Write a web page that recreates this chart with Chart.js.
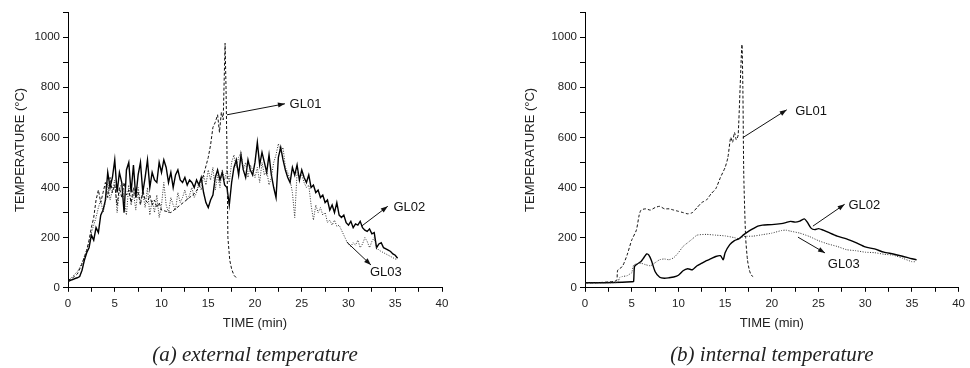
<!DOCTYPE html>
<html>
<head>
<meta charset="utf-8">
<script src="https://cdn.jsdelivr.net/npm/chart.js@4.4.1/dist/chart.umd.min.js"></script>
<style>
  body { margin: 0; background: #fff; }
  .box { position: absolute; top: 0; width: 485px; height: 368px; }
</style>
</head>
<body>
<div class="box" style="left:0"><canvas id="extChart" width="485" height="368"></canvas></div>
<div class="box" style="left:485px"><canvas id="intChart" width="485" height="368"></canvas></div>
<script>
/* ===== (a) EXTERNAL TEMPERATURE ===== */
// shared time base for GL02 / GL03 (min)
const extTime = [
  0, 0.25, 0.5, 0.75, 1, 1.25, 1.5, 1.75,
  2, 2.25, 2.5, 2.75, 3, 3.25, 3.5, 3.75,
  4, 4.25, 4.5, 4.75, 5, 5.25, 5.5, 5.75,
  6, 6.25, 6.5, 6.75, 7, 7.25, 7.5, 7.75,
  8, 8.25, 8.5, 8.75, 9, 9.25, 9.5, 9.75,
  10, 10.25, 10.5, 10.75, 11, 11.25, 11.5, 11.75,
  12, 12.25, 12.5, 12.75, 13, 13.25, 13.5, 13.75,
  14, 14.25, 14.5, 14.75, 15, 15.25, 15.5, 15.75,
  16, 16.25, 16.5, 16.75, 17, 17.25, 17.5, 17.75,
  18, 18.25, 18.5, 18.75, 19, 19.25, 19.5, 19.75,
  20, 20.25, 20.5, 20.75, 21, 21.25, 21.5, 21.75,
  22, 22.25, 22.5, 22.75, 23, 23.25, 23.5, 23.75,
  24, 24.25, 24.5, 24.75, 25, 25.25, 25.5, 25.75,
  26, 26.25, 26.5, 26.75, 27, 27.25, 27.5, 27.75,
  28, 28.25, 28.5, 28.75, 29, 29.25, 29.5, 29.75,
  30, 30.25, 30.5, 30.75, 31, 31.25, 31.5, 31.75,
  32, 32.25, 32.5, 32.75, 33, 33.25, 33.5, 33.75,
  34, 34.25, 34.5, 34.75, 35, 35.25
];
const extGL02 = [
  25, 30, 33, 37, 40, 45, 70, 110,
  140, 160, 210, 190, 240, 220, 290, 310,
  350, 460, 400, 440, 510, 380, 460, 420,
  300, 470, 500, 380, 490, 360, 450, 500,
  380, 440, 510, 400, 460, 430, 420, 500,
  460, 510, 480, 420, 460, 400, 450, 470,
  430, 420, 440, 410, 430, 420, 400, 430,
  410, 440, 380, 340, 320, 350, 370, 440,
  470, 430, 460, 410, 400, 330, 420, 480,
  510, 450, 530, 470, 440, 510, 470, 450,
  500, 580, 490, 540, 500, 460, 530, 450,
  400, 360, 520, 560, 510, 470, 440, 420,
  480, 450, 490, 430, 470, 440, 420, 450,
  400, 410, 380, 390, 360, 370, 340, 350,
  310, 330, 300, 340, 290, 280, 290, 260,
  250, 265, 240, 255, 250, 265, 240, 230,
  225, 235, 215, 220, 160, 175, 180, 160,
  155, 150, 145, 135, 130, 118
];
const extGL03 = [
  25, 35, 45, 55, 65, 80, 100, 125,
  150, 175, 220, 250, 280, 320, 350, 300,
  340, 420, 350, 390, 430, 300, 390, 420,
  350, 290, 410, 330, 380, 310, 400, 340,
  380, 320, 400, 290, 350, 300, 370, 280,
  330, 420, 330, 300, 360, 330, 310, 380,
  340, 360, 390, 350, 370, 400, 360, 380,
  420, 390, 450, 410, 470, 430, 480, 390,
  450, 400, 470, 430, 470, 420, 500, 530,
  480, 520, 540, 470, 500, 440, 490, 470,
  440, 480, 420, 500, 450, 470, 410, 440,
  500, 530, 575, 540, 560, 480, 460, 430,
  380, 280, 460, 440, 450, 420, 400, 410,
  330, 270, 330, 300, 320, 290, 300, 260,
  270, 250, 270, 245, 250, 230, 210, 190,
  175, 165, 180, 170, 190, 160, 175, 200,
  185, 160, 185, 200, 160, 150, 145, 140,
  135, 130, 125, 120, 115, 112
];
const extTime01 = [
  0, 0.5, 1, 1.5, 2, 2.25, 2.5, 2.75, 3, 3.25,
  3.5, 3.75, 4, 4.25, 4.5, 4.75, 5, 5.25, 5.5, 5.75,
  6, 6.25, 6.5, 6.75, 7, 7.25, 7.5, 7.75, 8, 8.25,
  8.5, 8.75, 9, 9.25, 9.5, 9.75, 10, 10.5, 11, 11.5,
  12, 12.5, 13, 13.5, 14, 14.5, 15, 15.25, 15.5, 15.75,
  16, 16.2, 16.4, 16.6, 16.8, 16.9, 17, 17.1, 17.3, 17.5,
  17.75, 18
];
const extGL01 = [
  30, 40, 55, 95, 150, 190, 240, 280, 350, 390,
  340, 380, 420, 360, 440, 380, 410, 330, 400, 360,
  420, 370, 390, 340, 400, 360, 380, 330, 390, 350,
  340, 370, 330, 350, 320, 340, 310, 305, 300, 315,
  330, 345, 360, 375, 400, 450, 520, 570, 640, 660,
  690, 620, 700, 670, 975, 800, 550, 200, 110, 75,
  50, 40
];

/* ===== (b) INTERNAL TEMPERATURE ===== */
const intTime01 = [
  0, 1, 2, 3, 3.4, 3.5, 4, 4.5, 5, 5.5,
  5.8, 6, 6.5, 7, 7.5, 8, 8.5, 9, 9.5, 10,
  10.5, 11, 11.5, 12, 12.5, 13, 13.5, 14, 14.5, 15,
  15.3, 15.6, 15.8, 16, 16.2, 16.4, 16.8, 16.9, 17, 17.2,
  17.4, 17.6, 17.8, 18
];
const intGL01 = [
  20, 20, 22, 25, 30, 70, 85, 130, 190, 230,
  290, 310, 315, 310, 320, 325, 315, 315, 310, 305,
  300, 295, 300, 320, 340, 350, 375, 395, 440, 480,
  520, 600, 580, 620, 590, 610, 970, 800, 450, 200,
  110, 70, 50, 45
];
const intTime02 = [
  0, 2, 4, 5, 5.2, 5.3, 5.6, 6, 6.3, 6.6,
  6.8, 7.1, 7.5, 8, 8.5, 9, 9.5, 10, 10.5, 11,
  11.5, 12, 12.5, 13, 13.5, 14, 14.5, 14.8, 15, 15.5,
  16, 16.5, 17, 17.5, 18, 18.5, 19, 20, 21, 21.5,
  22, 22.5, 23, 23.5, 23.8, 24.2, 24.6, 25, 25.5, 26,
  27, 28, 29, 30, 31, 32, 33, 34, 35, 35.5
];
const intGL02 = [
  20, 20, 22, 24, 25, 85, 95, 105, 120, 135,
  132, 110, 65, 42, 38, 40, 43, 50, 68, 76,
  72, 88, 98, 108, 116, 125, 128, 112, 140, 172,
  188, 196, 212, 225, 236, 246, 250, 252, 256, 260,
  265, 262, 266, 275, 262, 238, 232, 236, 230, 222,
  206, 195, 180, 163, 155, 142, 135, 126, 116, 112
];
const intTime03 = [
  0, 2, 3.5, 3.7, 4, 4.5, 4.8, 5, 5.2, 5.5,
  6, 6.5, 7, 7.5, 8, 8.5, 9, 9.5, 10, 10.5,
  11, 11.5, 12, 13, 14, 15, 16, 16.5, 17, 18,
  19, 20, 21, 21.5, 22, 23, 24, 25, 26, 27,
  28, 29, 30, 31, 32, 33, 34, 35, 35.3
];
const intGL03 = [
  20, 20, 22, 40, 45, 48, 55, 60, 90, 95,
  98, 92, 88, 100, 112, 115, 112, 120, 140, 165,
  180, 195, 210, 213, 210, 207, 200, 196, 205, 206,
  212, 218, 228, 230, 226, 218, 205, 188, 175, 165,
  152, 148, 142, 140, 134, 130, 118, 104, 104
];

// axis ticks
const xTickStep = 2.5, xLabelStep = 5, xMax = 40;
const yTickStep = 100, yLabelStep = 200, yMax = 1100;

function pts(ts, vs) {
  return ts.map((t, i) => ({ x: t, y: vs[i] }));
}

function series(label, ts, vs, style, tension) {
  return Object.assign({
    label: label,
    data: pts(ts, vs),
    borderColor: "#111",
    pointRadius: 0,
    fill: false,
    tension: tension,
  }, style);
}

const dashed = { borderWidth: 1, borderDash: [3, 2], borderColor: "#111" };
const solid = { borderWidth: 1.4, borderColor: "#000" };
const dotted = { borderWidth: 1, borderDash: [1, 1.5], borderColor: "#333" };

// arrow + label callouts, in data units
const arrowPlugin = {
  id: "arrows",
  afterDatasetsDraw(chart) {
    const notes = chart.options.plugins.arrows.notes || [];
    const xs = chart.scales.x, ys = chart.scales.y;
    const ctx = chart.ctx;
    ctx.save();
    ctx.strokeStyle = "#111";
    ctx.fillStyle = "#111";
    ctx.lineWidth = 1;
    notes.forEach((n) => {
      let x1 = xs.getPixelForValue(n.from[0]), y1 = ys.getPixelForValue(n.from[1]);
      let x2 = xs.getPixelForValue(n.to[0]), y2 = ys.getPixelForValue(n.to[1]);
      ctx.beginPath();
      ctx.moveTo(x1, y1);
      ctx.lineTo(x2, y2);
      ctx.stroke();
      let a = Math.atan2(y2 - y1, x2 - x1);
      ctx.beginPath();
      ctx.moveTo(x2, y2);
      ctx.lineTo(x2 - 7 * Math.cos(a) + 2.5 * Math.sin(a), y2 - 7 * Math.sin(a) - 2.5 * Math.cos(a));
      ctx.lineTo(x2 - 7 * Math.cos(a) - 2.5 * Math.sin(a), y2 - 7 * Math.sin(a) + 2.5 * Math.cos(a));
      ctx.closePath();
      ctx.fill();
      ctx.font = "13px 'Liberation Sans', Arial, sans-serif";
      ctx.textAlign = "left";
      ctx.textBaseline = "middle";
      ctx.fillText(n.label, xs.getPixelForValue(n.text[0]), ys.getPixelForValue(n.text[1]));
    });
    ctx.restore();
  },
};

function makeChart(id, datasets, caption, padLeft, padRight, yTitlePad, notes) {
  const tickFont = { family: "'Liberation Sans', Arial, sans-serif", size: 11.5 };
  const titleFont = { family: "'Liberation Sans', Arial, sans-serif", size: 13 };
  return new Chart(document.getElementById(id).getContext("2d"), {
    type: "line",
    data: { datasets: datasets },
    plugins: [arrowPlugin],
    options: {
      responsive: false,
      animation: false,
      layout: { padding: { left: padLeft, right: padRight, top: 12, bottom: 0 } },
      plugins: {
        legend: { display: false },
        tooltip: { enabled: false },
        title: {
          display: true,
          text: caption,
          position: "bottom",
          fullSize: false,
          color: "#222",
          font: { family: "'Liberation Serif', 'Times New Roman', serif", style: "italic", weight: "normal", size: 21 },
          padding: { top: 0, bottom: 0 },
        },
        arrows: { notes: notes },
      },
      scales: {
        x: {
          type: "linear",
          min: 0,
          max: xMax,
          afterFit: (s) => { s.height = 55; },
          border: { display: true, color: "#000", width: 1 },
          grid: { drawOnChartArea: false, drawTicks: true, tickLength: 4, color: "#000" },
          ticks: {
            stepSize: xTickStep,
            autoSkip: false,
            maxRotation: 0,
            padding: 5,
            color: "#222",
            font: tickFont,
            callback: (v) => (v % xLabelStep === 0 ? v : ""),
          },
          title: { display: true, text: "TIME (min)", color: "#222", font: titleFont, padding: { top: 0, bottom: 12 } },
        },
        y: {
          min: 0,
          max: yMax,
          afterFit: (s) => { s.width = 68; },
          border: { display: true, color: "#000", width: 1 },
          grid: { drawOnChartArea: false, drawTicks: true, tickLength: 5, color: "#000" },
          ticks: {
            stepSize: yTickStep,
            autoSkip: false,
            padding: 3,
            color: "#222",
            font: tickFont,
            callback: (v) => (v % yLabelStep === 0 ? v : ""),
          },
          title: { display: true, text: "TEMPERATURE (°C)", color: "#222", font: titleFont, padding: { top: yTitlePad, bottom: 0 } },
        },
      },
    },
  });
}

makeChart("extChart", [
  series("GL01", extTime01, extGL01, dashed, 0),
  series("GL03", extTime, extGL03, dotted, 0),
  series("GL02", extTime, extGL02, solid, 0),
], "(a) external temperature", 0, 43, 13, [
  { label: "GL01", from: [17.0, 690], to: [23.2, 734], text: [23.7, 730] },
  { label: "GL02", from: [31.4, 246], to: [34.2, 325], text: [34.8, 321] },
  { label: "GL03", from: [29.8, 183], to: [32.4, 91], text: [32.3, 60] },
]);

makeChart("intChart", [
  series("GL01", intTime01, intGL01, dashed, 0.2),
  series("GL03", intTime03, intGL03, dotted, 0.2),
  series("GL02", intTime02, intGL02, solid, 0.2),
], "(b) internal temperature", 32, 11, 6, [
  { label: "GL01", from: [16.9, 599], to: [21.6, 710], text: [22.5, 702] },
  { label: "GL02", from: [24.4, 246], to: [27.8, 333], text: [28.2, 329] },
  { label: "GL03", from: [22.8, 202], to: [25.7, 139], text: [26.0, 95] },
]);
</script>
</body>
</html>
